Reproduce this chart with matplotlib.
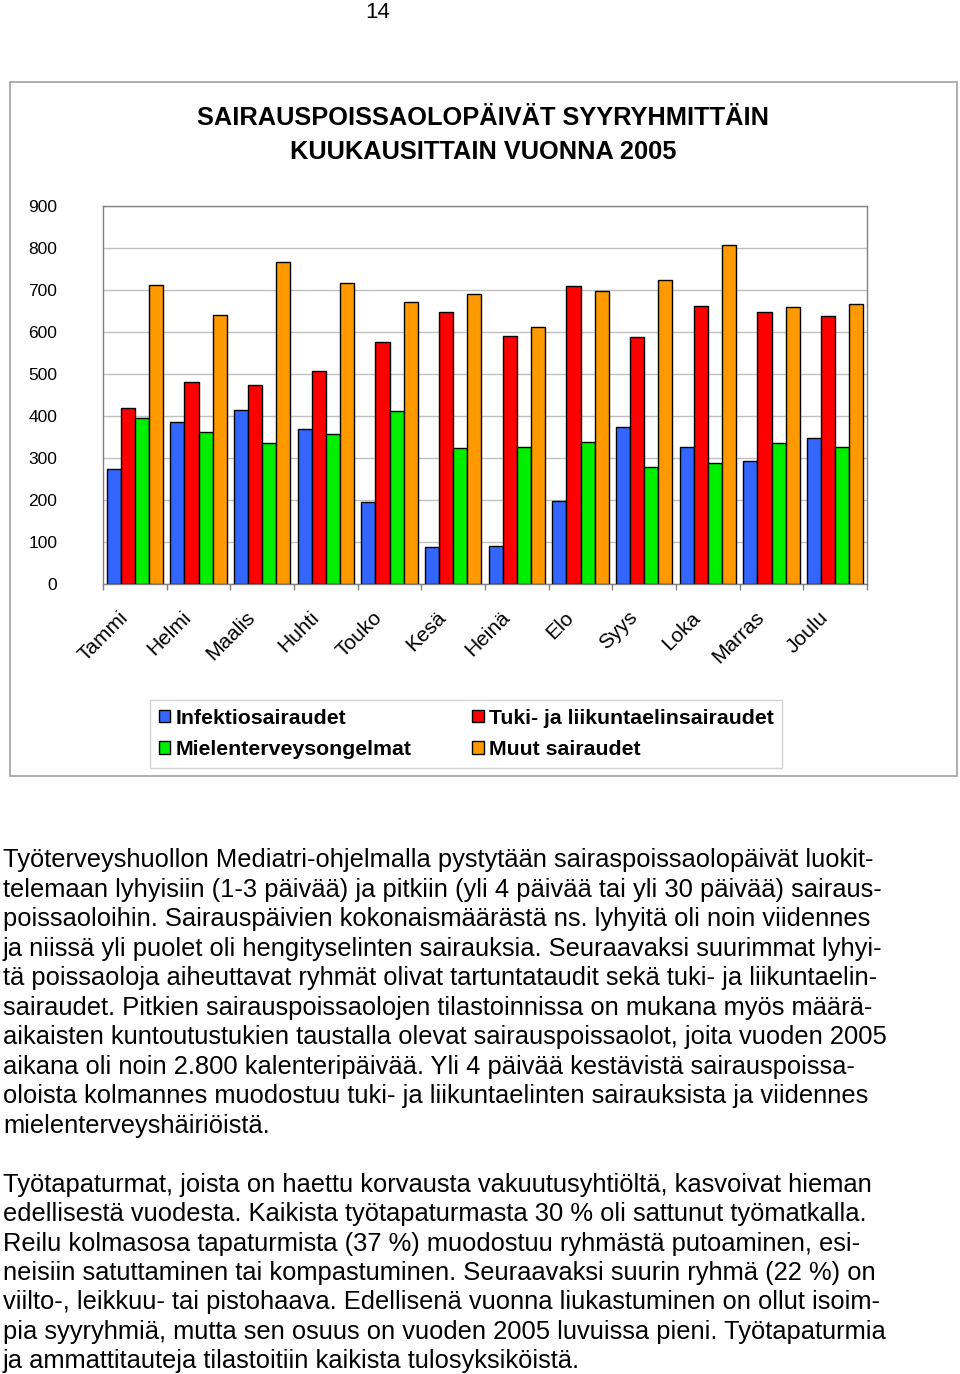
import numpy as np
import matplotlib
matplotlib.use('Agg')
import matplotlib.pyplot as plt
from matplotlib.patches import Rectangle, Patch
from matplotlib.transforms import ScaledTranslation

plt.rcParams['font.family'] = ['Liberation Sans', 'DejaVu Sans']

# sarjat ja arvot (luettu kuvasta)
KUUKAUDET = ['Tammi', 'Helmi', 'Maalis', 'Huhti', 'Touko', 'Kesä',
             'Heinä', 'Elo', 'Syys', 'Loka', 'Marras', 'Joulu']
INFEKTIO = [274, 385, 415, 370, 195, 88, 91, 198, 373, 327, 293, 347]
TUKI_LIIKUNTA = [419, 480, 473, 507, 576, 648, 591, 709, 587, 663, 648, 637]
MIELENTERVEYS = [396, 362, 335, 358, 412, 324, 327, 339, 278, 289, 335, 327]
MUUT = [713, 641, 767, 716, 671, 690, 611, 698, 724, 808, 660, 667]

SARJAT = ['Infektiosairaudet', 'Tuki- ja liikuntaelinsairaudet',
          'Mielenterveysongelmat', 'Muut sairaudet']
VARIT = ['#3366ff', '#ff0000', '#00ee00', '#ff9900']
Y_TICKS = [0, 100, 200, 300, 400, 500, 600, 700, 800, 900]

OTSIKKO = ['SAIRAUSPOISSAOLOPÄIVÄT SYYRYHMITTÄIN', 'KUUKAUSITTAIN VUONNA 2005']

KAPPALE_1 = [
    'Työterveyshuollon Mediatri-ohjelmalla pystytään sairaspoissaolopäivät luokit-',
    'telemaan lyhyisiin (1-3 päivää) ja pitkiin (yli 4 päivää tai yli 30 päivää) sairaus-',
    'poissaoloihin. Sairauspäivien kokonaismäärästä ns. lyhyitä oli noin viidennes',
    'ja niissä yli puolet oli hengityselinten sairauksia. Seuraavaksi suurimmat lyhyi-',
    'tä poissaoloja aiheuttavat ryhmät olivat tartuntataudit sekä tuki- ja liikuntaelin-',
    'sairaudet. Pitkien sairauspoissaolojen tilastoinnissa on mukana myös määrä-',
    'aikaisten kuntoutustukien taustalla olevat sairauspoissaolot, joita vuoden 2005',
    'aikana oli noin 2.800 kalenteripäivää. Yli 4 päivää kestävistä sairauspoissa-',
    'oloista kolmannes muodostuu tuki- ja liikuntaelinten sairauksista ja viidennes',
    'mielenterveyshäiriöistä.',
]
KAPPALE_2 = [
    'Työtapaturmat, joista on haettu korvausta vakuutusyhtiöltä, kasvoivat hieman',
    'edellisestä vuodesta. Kaikista työtapaturmasta 30 % oli sattunut työmatkalla.',
    'Reilu kolmasosa tapaturmista (37 %) muodostuu ryhmästä putoaminen, esi-',
    'neisiin satuttaminen tai kompastuminen. Seuraavaksi suurin ryhmä (22 %) on',
    'viilto-, leikkuu- tai pistohaava. Edellisenä vuonna liukastuminen on ollut isoim-',
    'pia syyryhmiä, mutta sen osuus on vuoden 2005 luvuissa pieni. Työtapaturmia',
    'ja ammattitauteja tilastoitiin kaikista tulosyksiköistä.',
]

W, H = 960, 1374


def fx(px):
    return px / W


def fy(py):
    return 1 - py / H


def main():
    fig = plt.figure(figsize=(W / 100, H / 100), dpi=100)

    # sivunumero
    fig.text(fx(378), fy(13), '14', ha='center', va='center', fontsize=16)

    # kaavion kehys
    fig.patches.append(Rectangle((fx(10), fy(776)), fx(957) - fx(10), (776 - 82) / H,
                                 transform=fig.transFigure, fill=False,
                                 edgecolor='#a8a8a8', linewidth=1.3))

    for i, rivi in enumerate(OTSIKKO):
        fig.text(fx(483), fy(118 + 34 * i), rivi, ha='center', va='center',
                 fontsize=18.3, weight='bold')

    ax = fig.add_axes([fx(103), fy(584), fx(867) - fx(103), (584 - 206) / H])

    x = np.arange(len(KUUKAUDET))
    w = 0.22
    for i, arvot in enumerate([INFEKTIO, TUKI_LIIKUNTA, MIELENTERVEYS, MUUT]):
        ax.bar(x + (i - 1.5) * w, arvot, w, color=VARIT[i],
               edgecolor='black', linewidth=1.0, zorder=3)

    ax.set_xlim(-0.5, len(KUUKAUDET) - 0.5)
    ax.set_ylim(0, 900)
    ax.set_yticks(Y_TICKS)
    ax.yaxis.grid(True, color='#c0c0c0', linewidth=1.0)
    ax.set_axisbelow(True)
    for s in ax.spines.values():
        s.set_color('#808080')
        s.set_linewidth(1.0)

    ax.tick_params(axis='y', length=0, pad=33, labelsize=12.5)
    ax.set_xticks(x)
    ax.set_xticklabels(KUUKAUDET, rotation=45, ha='right', va='center',
                       rotation_mode='anchor', fontsize=15)
    ax.tick_params(axis='x', which='major', length=0, pad=22)
    siirto = ScaledTranslation(-0.10, 0, fig.dpi_scale_trans)
    for lab in ax.get_xticklabels():
        lab.set_transform(lab.get_transform() + siirto)
    ax.set_xticks(np.arange(-0.5, len(KUUKAUDET), 1), minor=True)
    ax.tick_params(axis='x', which='minor', length=4, color='#808080', width=1)

    # selite: sarakkeittain täyttö
    jarj = [0, 2, 1, 3]
    kahvat = [Patch(facecolor=VARIT[j], edgecolor='black', linewidth=1.0) for j in jarj]
    nimet = [SARJAT[j] for j in jarj]
    leg = fig.legend(kahvat, nimet, ncol=2, loc='upper left',
                     bbox_to_anchor=(fx(150), fy(700)), borderaxespad=0,
                     frameon=True, fancybox=False, edgecolor='#c8c8c8',
                     prop={'size': 15.3, 'weight': 'bold'},
                     handlelength=0.55, handleheight=0.55, handletextpad=0.25,
                     columnspacing=2.85, borderpad=0.4, labelspacing=0.6)
    leg.get_frame().set_linewidth(1.0)

    # leipäteksti
    for i, rivi in enumerate(KAPPALE_1):
        fig.text(fx(3), fy(867 + 29.55 * i), rivi, ha='left', va='baseline', fontsize=18.4)
    for i, rivi in enumerate(KAPPALE_2):
        fig.text(fx(3), fy(1192 + 29.35 * i), rivi, ha='left', va='baseline', fontsize=18.4)

    fig.savefig('out.png', dpi=100)
    return 0


if __name__ == '__main__':
    main()
